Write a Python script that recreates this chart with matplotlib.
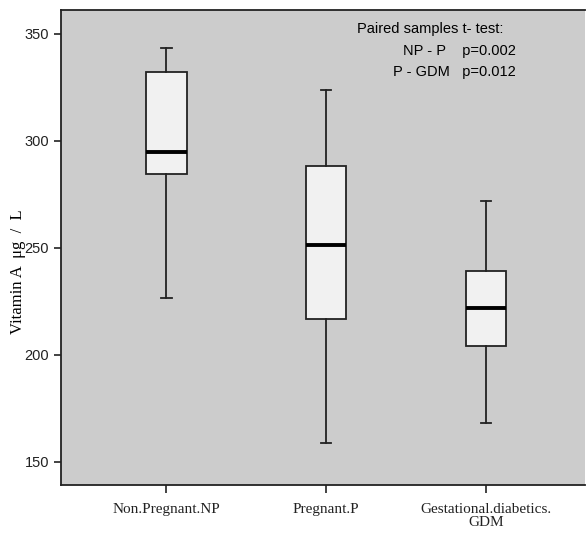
import matplotlib
matplotlib.use("Agg")
from matplotlib import pyplot as plt

# values
groups = ["Non.Pregnant.NP", "Pregnant.P", "Gestational.diabetics.\nGDM"]
whisker_low = [226.6, 158.5, 167.8]
q1 = [284.6, 216.4, 204.1]
median = [294.9, 251.4, 221.6]
q3 = [332.2, 288.0, 239.3]
whisker_high = [343.5, 323.7, 271.8]
y_ticks = [150, 200, 250, 300, 350]

sans = ["Liberation Sans Narrow", "Liberation Sans", "DejaVu Sans"]
serif = ["Liberation Serif", "DejaVu Serif"]

stats = []
for i, name in enumerate(groups):
    stats.append({
        "label": name,
        "whislo": whisker_low[i],
        "q1": q1[i],
        "med": median[i],
        "q3": q3[i],
        "whishi": whisker_high[i],
        "fliers": [],
    })

fig = plt.figure(figsize=(5.86, 5.34), dpi=100)
ax = fig.add_axes([0.104, 0.092, 0.894, 0.889])
ax.set_facecolor("#cccccc")

ax.bxp(stats, positions=[0, 1, 2], widths=0.254, capwidths=0.065,
       patch_artist=True, showfliers=False,
       boxprops=dict(facecolor="#f1f1f1", edgecolor="#222222", linewidth=1.3),
       medianprops=dict(color="black", linewidth=2.8),
       whiskerprops=dict(color="#222222", linewidth=1.3),
       capprops=dict(color="#222222", linewidth=1.3))

ax.set_xlim(-0.66, 2.62)
ax.set_ylim(139.1, 361)
ax.set_yticks(y_ticks)
ax.set_yticklabels([str(v) for v in y_ticks], family=sans, fontsize=10.5)
ax.set_xticks([0, 1, 2])
ax.set_xticklabels(groups, family=serif, fontsize=11, linespacing=1.0)
ax.tick_params(axis="both", direction="out", length=5, width=1.2, colors="#222222")
ax.tick_params(axis="x", length=6, pad=7)
for side in ["left", "bottom", "top"]:
    ax.spines[side].set_linewidth(1.3)
    ax.spines[side].set_color("#222222")
ax.spines["right"].set_visible(False)

ax.set_ylabel("Vitamin A  \u03bcg  /  L", family=serif, fontsize=12)
ax.yaxis.set_label_coords(-0.066, 0.45)

ax.text(0.565, 0.975, "Paired samples t- test:", transform=ax.transAxes,
        family=sans, fontsize=10.5, va="top", ha="left")
ax.text(0.869, 0.928, "NP - P    p=0.002", transform=ax.transAxes,
        family=sans, fontsize=10.5, va="top", ha="right")
ax.text(0.869, 0.884, "P - GDM   p=0.012", transform=ax.transAxes,
        family=sans, fontsize=10.5, va="top", ha="right")

fig.savefig("out.png", dpi=100)
